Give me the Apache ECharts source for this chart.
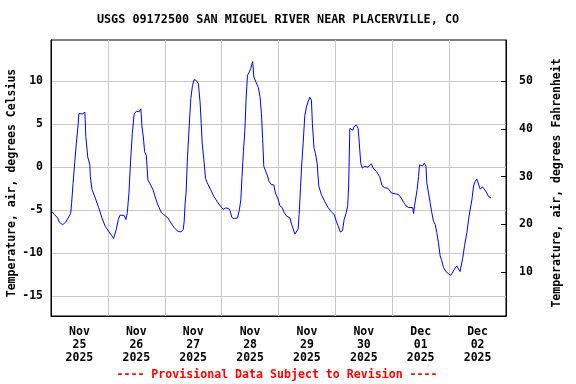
<!DOCTYPE html>
<html><head><meta charset="utf-8">
<script src="https://cdn.jsdelivr.net/npm/echarts@6/dist/echarts.min.js"></script>
<style>html,body{margin:0;padding:0;background:#fff}#c{width:576px;height:384px}</style>
</head><body><div id="c"></div>
<script>
// Tick labels (placed at noon of each day); gridlines at midnight
const dayLabels = ['Nov\n25\n2025','Nov\n26\n2025','Nov\n27\n2025','Nov\n28\n2025','Nov\n29\n2025','Nov\n30\n2025','Dec\n01\n2025','Dec\n02\n2025'];
const celsiusTicks = [-15,-10,-5,0,5,10];
const fahrenheitTicks = [10,20,30,40,50];
// Hours since 2025-11-25 00:00
const hours = [0,1.4,2.8,3.5,4.9,6.2,6.9,8.3,8.7,9.3,10,10.7,11.4,11.8,13.2,14.3,14.7,15.5,16.4,16.6,17.3,18.7,20.1,21.5,22.9,24.3,25.7,26.4,27.5,28.4,29.1,30.8,31.6,32.2,32.9,33.6,34.3,35.1,36.1,37.2,37.9,38.4,39,39.5,40.2,40.9,41.6,43,44.1,45.1,46.5,47.4,
49.3,50.6,52,53.4,54.8,55.8,56.2,56.6,57,57.6,58.3,59,59.7,60.4,61.3,62.2,62.9,63.4,63.8,64.5,65.2,65.9,67.3,68.7,70.1,71.5,72.6,73.6,75,75.6,76.3,77.3,78.7,79.5,80.1,80.6,81.2,81.8,82.3,82.9,83.7,84.3,85.1,85.6,86.5,87.5,88.2,88.8,89.3,89.8,90.6,91.2,92,93,94,94.7,95.8,
96.6,97.6,98.4,99.4,100.8,101.5,102.2,102.9,103.6,104.3,104.7,105.3,105.7,106.4,107.1,107.8,108.5,109.2,109.9,110.3,111,111.6,112.3,113,114.1,115.5,116.9,118.3,119.5,120.4,121.1,122.1,123,123.7,124.6,125.2,125.6,126.1,126.7,127.4,127.9,128.9,129.6,130.1,130.7,131.4,132.4,133.8,135.2,135.9,137.3,138.7,139.7,140.8,142.2,143.6,
145.3,146.7,147.8,148.8,149.8,150.9,151.6,152.6,153,153.4,154,154.5,155.1,155.5,156.1,156.8,157.5,158.2,158.6,159.3,160,160.7,161.4,162.1,162.8,163.5,164.2,164.9,165.6,166.6,167.7,168.7,169.4,170.3,171.2,171.9,172.6,173.3,173.8,174.5,175.5,176.4,177.6,178.3,179,179.7,180.4,181.1,182.1,183.2,183.9,184.6,185.7];
const tempC = [-5.06,-5.5,-5.9,-6.4,-6.7,-6.4,-6.6,-5.4,-4.2,-1.9,0.5,2.8,4.8,6.25,6.2,6.4,3.55,1.2,0.27,-1.1,-2.6,-3.6,-4.7,-5.9,-6.9,-7.45,-8.0,-8.3,-7.3,-6.1,-5.6,-5.6,-6.1,-5.3,-3.0,0.85,3.9,6.25,6.5,6.45,6.8,4.7,3.4,1.8,1.4,-1.5,-1.85,-2.6,-3.6,-4.4,-5.25,-5.5,
-5.9,-6.5,-7.05,-7.45,-7.55,-7.25,-6.3,-4.2,-3.0,1.2,4.7,8.0,9.5,10.2,10.1,9.7,7.6,5.1,2.8,0.85,-1.3,-1.8,-2.6,-3.4,-4.0,-4.55,-4.9,-4.75,-4.8,-5.1,-5.85,-6.0,-5.9,-4.95,-3.8,-1.1,1.8,4.3,7.8,10.7,11.1,11.5,12.3,10.5,9.9,9.3,8.2,6.25,3.35,0.1,0.1,-0.9,-1.65,-2.05,-2.05,-3.0,-3.7,
-4.5,-4.7,-5.3,-5.7,-5.9,-6.65,-7.2,-7.8,-7.8,-7.2,-5.5,-2.4,-0.1,2.8,6.0,7.0,7.6,8.15,7.8,5.1,2.2,1.6,0.45,-2.2,-3.2,-4.0,-4.7,-5.2,-5.5,-6.3,-6.8,-7.55,-7.4,-6.1,-5.3,-4.5,-2.2,4.5,4.7,4.3,4.75,4.9,4.5,2.8,0.45,-0.1,0.1,0,0.4,-0.1,-0.5,-1.1,-2.15,-2.4,-2.45,-3.0,
-3.1,-3.2,-3.6,-4.1,-4.5,-4.7,-4.5,-4.7,-5.4,-4.5,-4.35,-2.6,-1.1,0.27,0.46,0.15,0.46,0.15,-1.85,-3.0,-4.15,-5.3,-6.3,-6.65,-7.6,-8.8,-10.3,-10.9,-11.65,-12.15,-12.4,-12.6,-12.4,-11.85,-11.5,-11.65,-12.15,-12.3,-10.5,-9.15,-7.6,-5.7,-3.8,-2.2,-1.65,-1.4,-1.55,-2.55,-2.3,-2.7,-3.0,-3.4,-3.6];

const FONT = 'DejaVu Sans Mono';
const yMinC = -17.33, yMaxC = 14.81;
const toF = c => c * 1.8 + 32;
const seriesData = hours.map((h, i) => [h, tempC[i]]);
const lbl = {fontFamily: FONT, fontWeight: 'bold', fontSize: 11.5, color: '#000'};

const chart = echarts.init(document.getElementById('c'), null, {renderer: 'canvas'});
chart.setOption({
  animation: false,
  backgroundColor: '#fff',
  graphic: [
    {type: 'text', x: 278, y: 20, style: {text: 'USGS 09172500 SAN MIGUEL RIVER NEAR PLACERVILLE, CO', font: 'bold 11.8px "DejaVu Sans Mono"', fill: '#000', align: 'center', verticalAlign: 'middle'}},
    {type: 'text', x: 277, y: 375, style: {text: '---- Provisional Data Subject to Revision ----', font: 'bold 11.6px "DejaVu Sans Mono"', fill: '#ff0000', align: 'center', verticalAlign: 'middle'}}
  ],
  grid: {left: 51, right: 70, top: 40, bottom: 68, show: true, borderColor: '#000', borderWidth: 1,
         backgroundColor: 'transparent', containLabel: false, outerBoundsMode: 'none'},
  xAxis: [
    {type: 'value', min: 0, max: 192, interval: 24, position: 'bottom',
     axisLine: {show: true, onZero: false, lineStyle: {color: '#000'}}, axisTick: {show: false}, axisLabel: {show: false},
     splitLine: {show: true, lineStyle: {color: '#c8c8c8', width: 1}}},
    {type: 'value', min: 0, max: 192, interval: 12, position: 'bottom',
     axisLine: {show: false, onZero: false}, axisTick: {show: false}, splitLine: {show: false},
     axisLabel: Object.assign({}, lbl, {margin: 10, lineHeight: 13,
       formatter: v => (v % 24 === 12) ? dayLabels[(v - 12) / 24] : ''})}
  ],
  yAxis: [
    {type: 'value', min: yMinC, max: yMaxC, position: 'left',
     axisLine: {show: true, onZero: false, lineStyle: {color: '#000'}},
     axisTick: {show: false, customValues: celsiusTicks},
     axisLabel: Object.assign({}, lbl, {customValues: celsiusTicks, margin: 8}),
     splitLine: {show: true, lineStyle: {color: '#c8c8c8', width: 1}},
     name: 'Temperature, air, degrees Celsius', nameLocation: 'middle', nameGap: 33, nameMoveOverlap: false,
     nameTextStyle: {fontFamily: FONT, fontWeight: 'bold', fontSize: 11.5, color: '#000', padding: [0, 10, 0, 0]}},
    {type: 'value', min: toF(yMinC), max: toF(yMaxC), position: 'right',
     axisLine: {show: true, onZero: false, lineStyle: {color: '#000'}},
     axisTick: {show: true, inside: true, length: 5, customValues: fahrenheitTicks, lineStyle: {color: '#000'}},
     axisLabel: Object.assign({}, lbl, {customValues: fahrenheitTicks, margin: 13}),
     splitLine: {show: false},
     name: 'Temperature, air, degrees Fahrenheit', nameLocation: 'middle', nameGap: 45, nameMoveOverlap: false,
     nameTextStyle: {fontFamily: FONT, fontWeight: 'bold', fontSize: 11.5, color: '#000', padding: [0, 10, 0, 0]}}
  ],
  series: [{
    type: 'line', xAxisIndex: 0, yAxisIndex: 0, data: seriesData,
    showSymbol: false, symbol: 'none', smooth: false,
    lineStyle: {color: '#0000ff', width: 1}
  }]
});
</script></body></html>
